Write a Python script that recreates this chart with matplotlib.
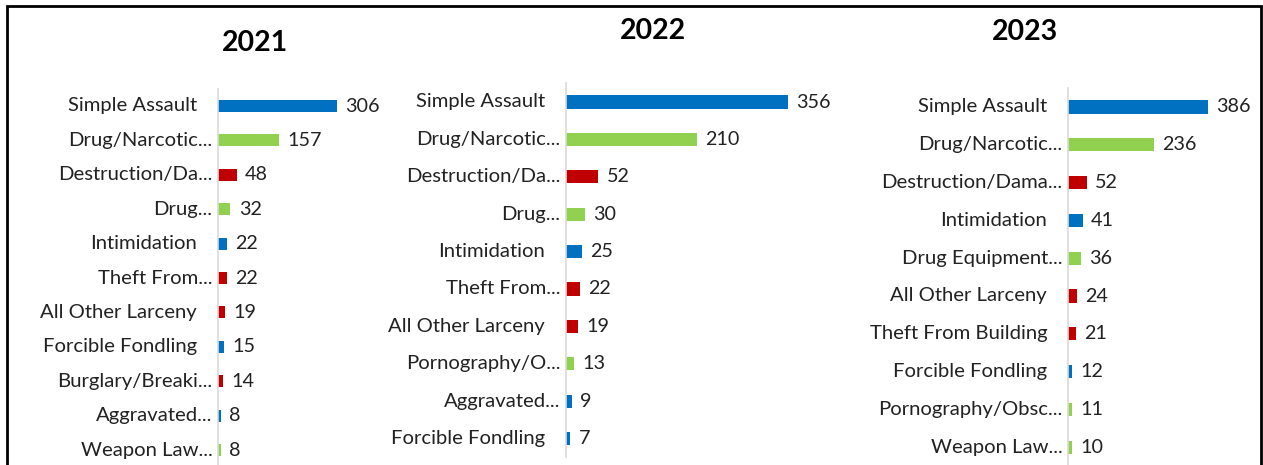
import matplotlib.pyplot as plt
from matplotlib.patches import Rectangle

W, H = 1263, 465

COLORS = {"person": "#0070C0", "property": "#C00000", "society": "#92D050"}

years = ["2021", "2022", "2023"]

labels_2021 = ["Simple Assault", "Drug/Narcotic...", "Destruction/Da...", "Drug...",
               "Intimidation", "Theft From...", "All Other Larceny", "Forcible Fondling",
               "Burglary/Breaki...", "Aggravated...", "Weapon Law..."]
values_2021 = [306, 157, 48, 32, 22, 22, 19, 15, 14, 8, 8]
groups_2021 = ["person", "society", "property", "society", "person", "property",
               "property", "person", "property", "person", "society"]

labels_2022 = ["Simple Assault", "Drug/Narcotic...", "Destruction/Da...", "Drug...",
               "Intimidation", "Theft From...", "All Other Larceny", "Pornography/O...",
               "Aggravated...", "Forcible Fondling"]
values_2022 = [356, 210, 52, 30, 25, 22, 19, 13, 9, 7]
groups_2022 = ["person", "society", "property", "society", "person", "property",
               "property", "society", "person", "person"]

labels_2023 = ["Simple Assault", "Drug/Narcotic...", "Destruction/Dama...", "Intimidation",
               "Drug Equipment...", "All Other Larceny", "Theft From Building",
               "Forcible Fondling", "Pornography/Obsc...", "Weapon Law..."]
values_2023 = [386, 236, 52, 41, 36, 24, 21, 12, 11, 10]
groups_2023 = ["person", "society", "property", "person", "society", "property",
               "property", "person", "society", "society"]

# panel layout in pixels: axis x, px per unit, first row y, row spacing, title centre
panels = [
    dict(x0=218, scale=0.389, y0=106, sp=34.4, tx=255, ty=43),
    dict(x0=566, scale=0.623, y0=102, sp=37.4, tx=653, ty=31),
    dict(x0=1068, scale=0.363, y0=107, sp=37.8, tx=1025, ty=32),
]
data = [
    (labels_2021, values_2021, groups_2021),
    (labels_2022, values_2022, groups_2022),
    (labels_2023, values_2023, groups_2023),
]

plt.rcParams["font.family"] = ["Lato", "DejaVu Sans"]
fig = plt.figure(figsize=(W / 100, H / 100), dpi=100)

for year, p, (labels, values, groups) in zip(years, panels, data):
    n = len(labels)
    ax_w = 260
    top = p["y0"] - p["sp"] / 2
    bottom = p["y0"] + (n - 0.5) * p["sp"]
    ax = fig.add_axes([p["x0"] / W, 1 - bottom / H, ax_w / W, (bottom - top) / H])
    ax.set_xlim(0, ax_w / p["scale"])
    ax.set_ylim(n - 0.5, -0.5)
    ypos = list(range(n))
    ax.barh(ypos, values, height=0.35, color=[COLORS[g] for g in groups])
    for y, v, lab in zip(ypos, values, labels):
        ax.annotate(str(v), (v, y), xytext=(6, 0), textcoords="offset points",
                    va="center", ha="left", fontsize=14.2, color="#222222")
        # truncated names sit closer to the axis than full ones
        pad = -4 if lab.endswith("...") else -15
        ax.annotate(lab, (0, y), xytext=(pad, 0), textcoords="offset points",
                    va="center", ha="right", fontsize=14.6, color="#222222")
    ax.set_xticks([])
    ax.set_yticks([])
    for s in ["top", "right", "bottom"]:
        ax.spines[s].set_visible(False)
    ax.spines["left"].set_color("#D9D9D9")
    ax.spines["left"].set_linewidth(1.2)
    ax.patch.set_visible(False)
    fig.text(p["tx"] / W, 1 - p["ty"] / H, year, ha="center", va="center",
             fontsize=20.5, fontweight="bold", color="black")

# outer frame
fig.patches.append(Rectangle((7 / W, -0.05), (1261 - 7) / W, 1.05 - 6 / H,
                             transform=fig.transFigure, fill=False,
                             edgecolor="black", linewidth=2))

fig.savefig("out.png", dpi=100)
